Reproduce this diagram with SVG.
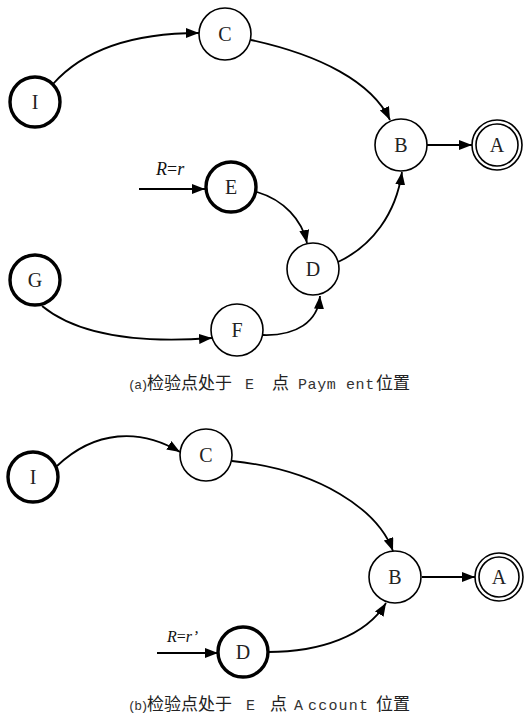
<svg xmlns="http://www.w3.org/2000/svg" width="524" height="717" viewBox="0 0 524 717">
  <defs>
    <marker id="arrow" viewBox="0 0 13 10" refX="13" refY="5" markerWidth="13" markerHeight="10" markerUnits="userSpaceOnUse" orient="auto">
      <path d="M0,0 L13,5 L0,10 Z" fill="#000"/>
    </marker>
  </defs>
  <style>
    .node { fill: #fff; stroke: #000; stroke-width: 1.6; }
    .start { fill: #fff; stroke: #000; stroke-width: 3.4; }
    .label { font-family: "Liberation Serif", "Times New Roman", serif; font-size: 20px; fill: #222; text-anchor: middle; dominant-baseline: central; }
    .edge { fill: none; stroke: #000; stroke-width: 1.8; marker-end: url(#arrow); }
    .cond { font-family: "Liberation Serif", "Times New Roman", serif; font-style: italic; fill: #111; }
    .cn { font-family: "Noto Sans CJK SC", "Noto Sans", sans-serif; font-size: 17px; fill: #222; }
    .lat { font-family: "Liberation Mono", "Courier New", monospace; fill: #333; }
  </style>

  <!-- (a) -->
  <g id="edges-a">
    <path class="edge" d="M53,84 C85,48 135,33 199,33"/>
    <path class="edge" d="M251,40 C320,55 372,82 390,120"/>
    <path class="edge" d="M427,145 L472,145"/>
    <path class="edge" d="M139,189 L205,189"/>
    <path class="edge" d="M257,192 C284,200 302,220 307,243"/>
    <path class="edge" d="M263,335 C296,336 318,322 320,296"/>
    <path class="edge" d="M42,306 C80,337 145,343 212,338"/>
    <path class="edge" d="M338,262 C372,246 396,214 402,172"/>
  </g>
  <g id="a-I"><circle class="start" cx="35" cy="102" r="25"/><text class="label" x="35" y="102">I</text></g>
  <g id="a-C"><circle class="node" cx="225" cy="34" r="26"/><text class="label" x="225" y="34">C</text></g>
  <g id="a-B"><circle class="node" cx="401" cy="145" r="26"/><text class="label" x="401" y="145">B</text></g>
  <g id="a-A"><circle class="node" cx="497" cy="145" r="25"/><circle class="node" cx="497" cy="145" r="21"/><text class="label" x="497" y="145">A</text></g>
  <g id="a-E"><circle class="start" cx="231" cy="187" r="25"/><text class="label" x="231" y="187">E</text></g>
  <g id="a-D"><circle class="node" cx="313" cy="269" r="26"/><text class="label" x="313" y="269">D</text></g>
  <g id="a-F"><circle class="node" cx="237" cy="330" r="26"/><text class="label" x="237" y="330">F</text></g>
  <g id="a-G"><circle class="start" cx="35" cy="280" r="25"/><text class="label" x="35" y="280">G</text></g>
  <text class="cond" x="156" y="175" font-size="18">R<tspan font-style="normal">=</tspan>r</text>

  <text y="389">
    <tspan class="lat" x="128" font-size="13" letter-spacing="-1.5">(a)</tspan>
    <tspan class="cn" x="147">检验点处于</tspan>
    <tspan class="lat" x="245" font-size="15">E</tspan>
    <tspan class="cn" x="272">点</tspan>
    <tspan class="lat" x="298" font-size="15" letter-spacing="0.6">Paym ent</tspan>
    <tspan class="cn" x="376">位置</tspan>
  </text>

  <!-- (b) -->
  <g id="edges-b">
    <path class="edge" d="M57,466 C95,430 140,428 180,452"/>
    <path class="edge" d="M232,461 C320,470 378,510 393,551"/>
    <path class="edge" d="M422,577 L475,577"/>
    <path class="edge" d="M157,653 L218,653"/>
    <path class="edge" d="M268,652 C320,652 366,636 386,603"/>
  </g>
  <g id="b-I"><circle class="start" cx="33" cy="477" r="25"/><text class="label" x="33" y="477">I</text></g>
  <g id="b-C"><circle class="node" cx="206" cy="455" r="26"/><text class="label" x="206" y="455">C</text></g>
  <g id="b-B"><circle class="node" cx="395" cy="577" r="26"/><text class="label" x="395" y="577">B</text></g>
  <g id="b-A"><circle class="node" cx="499" cy="577" r="24"/><circle class="node" cx="499" cy="577" r="20"/><text class="label" x="499" y="577">A</text></g>
  <g id="b-D"><circle class="start" cx="243" cy="652" r="25"/><text class="label" x="243" y="652">D</text></g>
  <text class="cond" x="167" y="642" font-size="16">R<tspan font-style="normal">=</tspan>r’</text>

  <text y="710">
    <tspan class="lat" x="128" font-size="13" letter-spacing="-1.5">(b)</tspan>
    <tspan class="cn" x="147">检验点处于</tspan>
    <tspan class="lat" x="246" font-size="15">E</tspan>
    <tspan class="cn" x="270">点</tspan>
    <tspan class="lat" x="294" font-size="15">A</tspan>
    <tspan class="lat" x="308" font-size="15" letter-spacing="1.2">ccount</tspan>
    <tspan class="cn" x="376">位置</tspan>
  </text>
</svg>
